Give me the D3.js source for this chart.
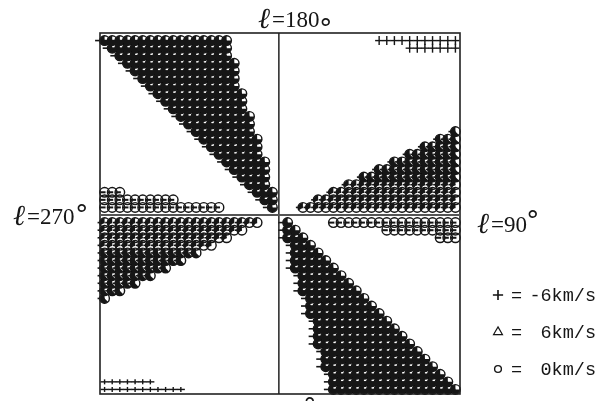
<!DOCTYPE html>
<html>
<head>
<meta charset="utf-8">
<script src="https://cdn.jsdelivr.net/npm/d3@7"></script>
<style>
body { margin: 0; background: #fff; }
svg { display: block; }
</style>
</head>
<body>
<svg id="chart" width="605" height="401"></svg>
<script>
// each row is [row, first column, last column] on the sky grid
var upperLeftRows = [
    [23, -23, -7], [22, -22, -7], [21, -21, -7], [20, -20, -6], [19, -19, -6], [18, -18, -6],
    [17, -17, -6], [16, -16, -5], [15, -15, -5], [14, -14, -5], [13, -13, -4], [12, -12, -4],
    [11, -11, -4], [10, -10, -3], [9, -9, -3], [8, -8, -3], [7, -7, -2], [6, -6, -2],
    [5, -5, -2], [4, -4, -2], [3, -3, -1], [2, -2, -1], [1, -1, -1]
];
var lowerRightRows = [
    [-1, 1, 1], [-2, 1, 2], [-3, 1, 3], [-4, 2, 4], [-5, 2, 5], [-6, 2, 6], [-7, 2, 7],
    [-8, 3, 8], [-9, 3, 9], [-10, 3, 10], [-11, 4, 11], [-12, 4, 12], [-13, 4, 13],
    [-14, 5, 14], [-15, 5, 15], [-16, 5, 16], [-17, 5, 17], [-18, 6, 18], [-19, 6, 19],
    [-20, 6, 20], [-21, 7, 21], [-22, 7, 22], [-23, 7, 23]
];
var upperRightRows = [
    [1, 3, 23], [2, 5, 23], [3, 7, 23], [4, 9, 23], [5, 11, 23], [6, 13, 23],
    [7, 15, 23], [8, 17, 23], [9, 19, 23], [10, 21, 23], [11, 23, 23]
];
var lowerLeftRows = [
    [-1, -23, -3], [-2, -23, -5], [-3, -23, -7], [-4, -23, -9], [-5, -23, -11], [-6, -23, -13],
    [-7, -23, -15], [-8, -23, -17], [-9, -23, -19], [-10, -23, -21], [-11, -23, -23]
];
var nearAxisRows = [
    [3, -23, -21], [2, -23, -14], [1, -23, -8],
    [-1, 7, 23], [-2, 14, 23], [-3, 21, 23]
];
var topPlusRows = [[23, 13, 23], [22, 17, 23]];
var bottomPlusRows = [[-22, -23, -17], [-23, -23, -13]];
var legendLabels = ["-6km/s", "6km/s", "0km/s"];

var svg = d3.select("#chart");

var blur = svg.append("defs").append("filter").attr("id", "scan");
blur.append("feGaussianBlur").attr("stdDeviation", 0.45);

var x = d3.scaleLinear().domain([-23.6, 23.6]).range([100, 460]);
var y = d3.scaleLinear().domain([-23.6, 24]).range([394, 33]);

var ink = "#141414";
var page = svg.append("g").attr("filter", "url(#scan)");

// turn [row, first, last] into one item per cell
function cells(rows) {
    var out = [];
    rows.forEach(function (r) {
        d3.range(r[1], r[2] + 1).forEach(function (c) {
            out.push({row: r[0], col: c});
        });
    });
    return out;
}

function place(d) {
    return "translate(" + x(d.col) + "," + y(d.row) + ")";
}

var circlePath = d3.symbol().type(d3.symbolCircle).size(72)();
var trianglePath = d3.symbol().type(d3.symbolTriangle).size(34)();

function drawCircles(data, sw) {
    page.append("g").selectAll("path").data(data).enter().append("path")
        .attr("transform", place)
        .attr("d", circlePath)
        .attr("fill", "none")
        .attr("stroke", ink)
        .attr("stroke-width", sw);
}

// overprinted cell: a disc with a wedge left white, start angle sets how much stays open
function drawFilled(data, startDeg) {
    var arc = d3.arc().innerRadius(0).outerRadius(4.8)
        .startAngle(startDeg * Math.PI / 180).endAngle(2 * Math.PI);
    page.append("g").selectAll("path").data(data).enter().append("path")
        .attr("transform", place)
        .attr("d", arc())
        .attr("fill", ink);
}

// a plus mark, its bar reaches further to the left than to the right
function drawPlus(data, armLeft, armRight, armY, sw) {
    var g = page.append("g").selectAll("g").data(data).enter().append("g")
        .attr("transform", place);
    g.append("line").attr("x1", -armLeft).attr("x2", armRight)
        .attr("stroke", ink).attr("stroke-width", sw);
    if (armY > 0) {
        g.append("line").attr("y1", -armY).attr("y2", armY)
            .attr("stroke", ink).attr("stroke-width", sw);
    }
}

var denseCells = cells(upperLeftRows).concat(cells(lowerRightRows));
var lightCells = cells(upperRightRows).concat(cells(lowerLeftRows));
var axisCells = cells(nearAxisRows);

// the rows closest to the plane print lighter than the rest of those two wedges
var nearPlane = lightCells.filter(function (d) { return Math.abs(d.row) <= 4; });
var awayFromPlane = lightCells.filter(function (d) { return Math.abs(d.row) > 4; });

drawCircles(axisCells, 1.4);
drawPlus(axisCells, 4.5, 1, 0, 2);
drawCircles(lightCells, 1.4);
drawFilled(nearPlane, 235);
drawFilled(awayFromPlane, 135);
drawPlus(lightCells, 7, 0, 0, 1.6);
drawCircles(denseCells, 1.4);
drawFilled(denseCells, 90);
drawPlus(denseCells, 9.5, 0, 0, 1.6);
drawPlus(cells(topPlusRows), 4, 4, 4.5, 1.4);
drawPlus(cells(bottomPlusRows), 4, 4, 2.5, 1.4);

// frame and the two axes
page.append("rect")
    .attr("x", x(-23.6)).attr("y", y(24))
    .attr("width", x(23.6) - x(-23.6)).attr("height", y(-23.6) - y(24))
    .attr("fill", "none").attr("stroke", "#222").attr("stroke-width", 1.6);
page.append("line")
    .attr("x1", x(-0.15)).attr("x2", x(-0.15))
    .attr("y1", y(24)).attr("y2", y(-23.6))
    .attr("stroke", "#222").attr("stroke-width", 1.5);
page.append("line")
    .attr("x1", x(-23.6)).attr("x2", x(23.6))
    .attr("y1", y(0)).attr("y2", y(0))
    .attr("stroke", "#555").attr("stroke-width", 2);

// longitude labels
var serif = "'Liberation Serif', serif";
function longLabel(px, py, value, degX, degY) {
    page.append("text").attr("x", px).attr("y", py)
        .attr("font-family", serif).attr("font-size", 29).attr("font-style", "italic")
        .attr("fill", ink).text("\u2113");
    page.append("text").attr("x", px + 14).attr("y", py - 1)
        .attr("font-family", serif).attr("font-size", 23)
        .attr("fill", ink).text("=" + value);
    page.append("text").attr("x", degX).attr("y", degY)
        .attr("font-family", "'DejaVu Sans', sans-serif").attr("font-size", 27)
        .attr("fill", ink).text("\u00b0");
}
longLabel(258, 28, "180", 319, 38);
longLabel(13, 225, "270", 75, 224);
longLabel(477, 233, "90", 526, 230);

// only the top of the label under the frame is left on the page
page.append("text").attr("x", 303).attr("y", 417)
    .attr("font-family", "'DejaVu Sans', sans-serif").attr("font-size", 27)
    .attr("fill", ink).text("\u00b0");

// legend
var legendY = [295, 332, 369];
legendLabels.forEach(function (label, i) {
    page.append("text").attr("x", 596).attr("y", legendY[i] + 6)
        .attr("text-anchor", "end")
        .attr("font-family", "'Liberation Mono', monospace").attr("font-size", 18.5)
        .attr("fill", ink).text(label);
    page.append("text").attr("x", 511).attr("y", legendY[i] + 6)
        .attr("font-family", "'Liberation Mono', monospace").attr("font-size", 18.5)
        .attr("fill", ink).text("=");
});
var legendSymbolX = 498;
page.append("path").attr("transform", "translate(" + legendSymbolX + "," + legendY[0] + ")")
    .attr("d", d3.symbol().type(d3.symbolPlus).size(36)()).attr("fill", "none")
    .attr("stroke", ink).attr("stroke-width", 1.6);
page.append("path").attr("transform", "translate(" + legendSymbolX + "," + legendY[1] + ")")
    .attr("d", trianglePath).attr("fill", "none").attr("stroke", ink).attr("stroke-width", 1.2);
page.append("path").attr("transform", "translate(" + legendSymbolX + "," + legendY[2] + ")")
    .attr("d", d3.symbol().type(d3.symbolCircle).size(36)()).attr("fill", "none")
    .attr("stroke", ink).attr("stroke-width", 1.4);
</script>
</body>
</html>
